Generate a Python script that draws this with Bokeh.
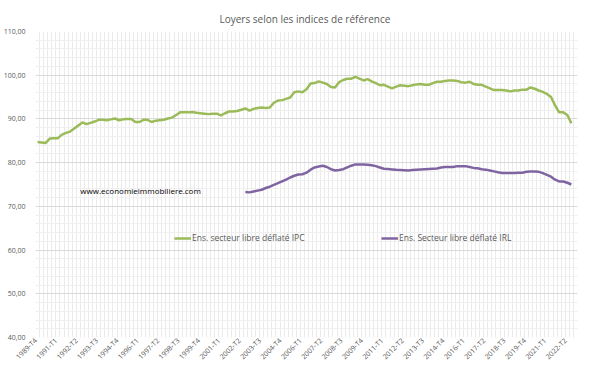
from math import pi
from bokeh.plotting import figure
from bokeh.models import FixedTicker, Legend, LegendItem, Label, Range1d
from bokeh.embed import file_html
from bokeh.resources import INLINE

# Quarterly categories 1989-T4 .. 2022-T4
quarters = [f"{y}-T{q}" for y in range(1989, 2023) for q in range(1, 5)][3:]

tick_labels = ["1989-T4", "1991-T1", "1992-T2", "1993-T3", "1994-T4", "1996-T1", "1997-T2",
               "1998-T3", "1999-T4", "2001-T1", "2002-T2", "2003-T3", "2004-T4", "2006-T1",
               "2007-T2", "2008-T3", "2009-T4", "2011-T1", "2012-T2", "2013-T3", "2014-T4",
               "2016-T1", "2017-T2", "2018-T3", "2019-T4", "2021-T1", "2022-T2"]

# Ens. secteur libre déflaté IPC (from 1989-T4)
ipc = [84.7, 84.6, 84.5, 85.5, 85.6, 85.6, 86.4, 86.8, 87.1, 87.8,
       88.5, 89.2, 88.8, 89.1, 89.4, 89.8, 89.8, 89.7, 89.9, 90.1,
       89.7, 89.9, 90.0, 90.0, 89.3, 89.3, 89.8, 89.8, 89.3, 89.6,
       89.7, 89.8, 90.1, 90.3, 90.9, 91.5, 91.5, 91.5, 91.6, 91.4,
       91.3, 91.2, 91.1, 91.2, 91.2, 90.8, 91.3, 91.7, 91.7, 91.8,
       92.1, 92.4, 91.9, 92.3, 92.5, 92.6, 92.5, 92.6, 93.7, 94.2,
       94.3, 94.6, 94.9, 96.1, 96.3, 96.1, 96.8, 98.1, 98.2, 98.6,
       98.3, 98.0, 97.3, 97.2, 98.4, 98.9, 99.2, 99.2, 99.6, 99.2,
       98.8, 99.1, 98.6, 98.2, 97.7, 97.8, 97.4, 97.0, 97.4, 97.7,
       97.6, 97.5, 97.7, 97.9, 98.0, 97.8, 97.8, 98.2, 98.5, 98.5,
       98.7, 98.8, 98.8, 98.7, 98.4, 98.3, 98.5, 98.0, 97.8, 97.8,
       97.4, 97.0, 96.6, 96.6, 96.6, 96.5, 96.3, 96.5, 96.5, 96.7,
       96.7, 97.2, 96.9, 96.5, 96.2, 95.7, 95.0, 93.1, 91.5, 91.5,
       90.9, 89.0]

# Ens. Secteur libre déflaté IRL (from 2002-T3)
irl_start = "2002-T3"
irl = [73.3, 73.2, 73.4, 73.6, 73.8, 74.2, 74.5, 74.9, 75.3, 75.7,
       76.1, 76.6, 77.0, 77.3, 77.35, 77.7, 78.4, 78.9, 79.1, 79.3,
       79.0, 78.5, 78.2, 78.3, 78.5, 78.9, 79.3, 79.6, 79.6, 79.6,
       79.5, 79.4, 79.2, 78.9, 78.6, 78.55, 78.45, 78.35, 78.3, 78.25,
       78.2, 78.3, 78.4, 78.45, 78.5, 78.55, 78.6, 78.65, 78.9, 79.0,
       79.0, 79.0, 79.2, 79.2, 79.2, 79.0, 78.8, 78.7, 78.5, 78.4,
       78.2, 78.0, 77.8, 77.65, 77.65, 77.65, 77.65, 77.7, 77.7, 77.9,
       78.0, 78.0, 77.9, 77.6, 77.2, 76.8, 76.1, 75.7, 75.7, 75.4,
       75.0]

y_ticks = [40, 50, 60, 70, 80, 90, 100, 110]
y_labels = ["40,00", "50,00", "60,00", "70,00", "80,00", "90,00", "100,00", "110,00"]

FONT = "Open Sans"
GREY = "#595959"
GREEN = "#9BBB59"
PURPLE = "#8064A2"

n = len(quarters)
x_ipc = list(range(len(ipc)))
i0 = quarters.index(irl_start)
x_irl = list(range(i0, i0 + len(irl)))

p = figure(width=584, height=384, output_backend="svg", toolbar_location=None,
           x_range=Range1d(-0.5, n - 0.5), y_range=Range1d(40, 110),
           min_border_left=24, min_border_right=7, min_border_top=31, min_border_bottom=47)
p.outline_line_color = None
p.background_fill_color = "white"
p.border_fill_color = "white"

p.title.text = "Loyers selon les indices de référence"
p.title.align = "left"
p.title.offset = 184
p.title.text_font = FONT
p.title.text_font_size = "10px"
p.title.text_font_style = "normal"
p.title.text_color = GREY
p.title.standoff = 11

r1 = p.line(x_ipc, ipc, line_color=GREEN, line_width=2.5)
r2 = p.line(x_irl, irl, line_color=PURPLE, line_width=2.5)

# y axis
p.yaxis.ticker = FixedTicker(ticks=y_ticks, minor_ticks=list(range(40, 111, 2)))
p.yaxis.major_label_overrides = dict(zip(y_ticks, y_labels))
p.yaxis.axis_line_color = None
p.yaxis.major_tick_line_color = None
p.yaxis.minor_tick_line_color = None
p.yaxis.major_label_text_font = FONT
p.yaxis.major_label_text_font_size = "7px"
p.yaxis.major_label_text_color = GREY
p.yaxis.major_label_standoff = 4

# x axis (label anchors placed slightly left of their category, as in the original)
tick_pos = [quarters.index(t) - 0.45 for t in tick_labels]
p.xaxis.ticker = FixedTicker(ticks=tick_pos)
p.xaxis.major_label_overrides = dict(zip(tick_pos, tick_labels))
p.xaxis.major_label_orientation = pi / 4
p.xaxis.axis_line_color = None
p.xaxis.major_tick_line_color = None
p.xaxis.minor_tick_line_color = None
p.xaxis.major_label_text_font = FONT
p.xaxis.major_label_text_font_size = "7px"
p.xaxis.major_label_text_color = GREY
p.xaxis.major_label_standoff = -4

# grids
p.xgrid.ticker = FixedTicker(ticks=[i - 0.5 for i in range(n + 1)])
p.xgrid.grid_line_color = "#ebebeb"
p.xgrid.grid_line_width = 1
p.ygrid.grid_line_color = "#d9d9d9"
p.ygrid.minor_grid_line_color = "#efefef"

# legends
for r, lab, loc in [(r1, "Ens. secteur libre déflaté IPC", (139, 94)),
                    (r2, "Ens. Secteur libre déflaté IRL", (346, 94))]:
    leg = Legend(items=[LegendItem(label=lab, renderers=[r])], location=loc,
                 orientation="horizontal", background_fill_alpha=0, border_line_color=None,
                 padding=0, margin=0, glyph_width=17, glyph_height=10, label_standoff=1,
                 label_text_font=FONT, label_text_font_size="8.5px", label_text_color=GREY,
                 label_height=10)
    p.add_layout(leg)

p.add_layout(Label(x=10.5, y=73.6, text="www.economieimmobiliere.com", text_font=FONT,
                   text_font_size="8px", text_color="black", text_baseline="middle"))

open("out.html", "w").write(file_html(p, INLINE))
